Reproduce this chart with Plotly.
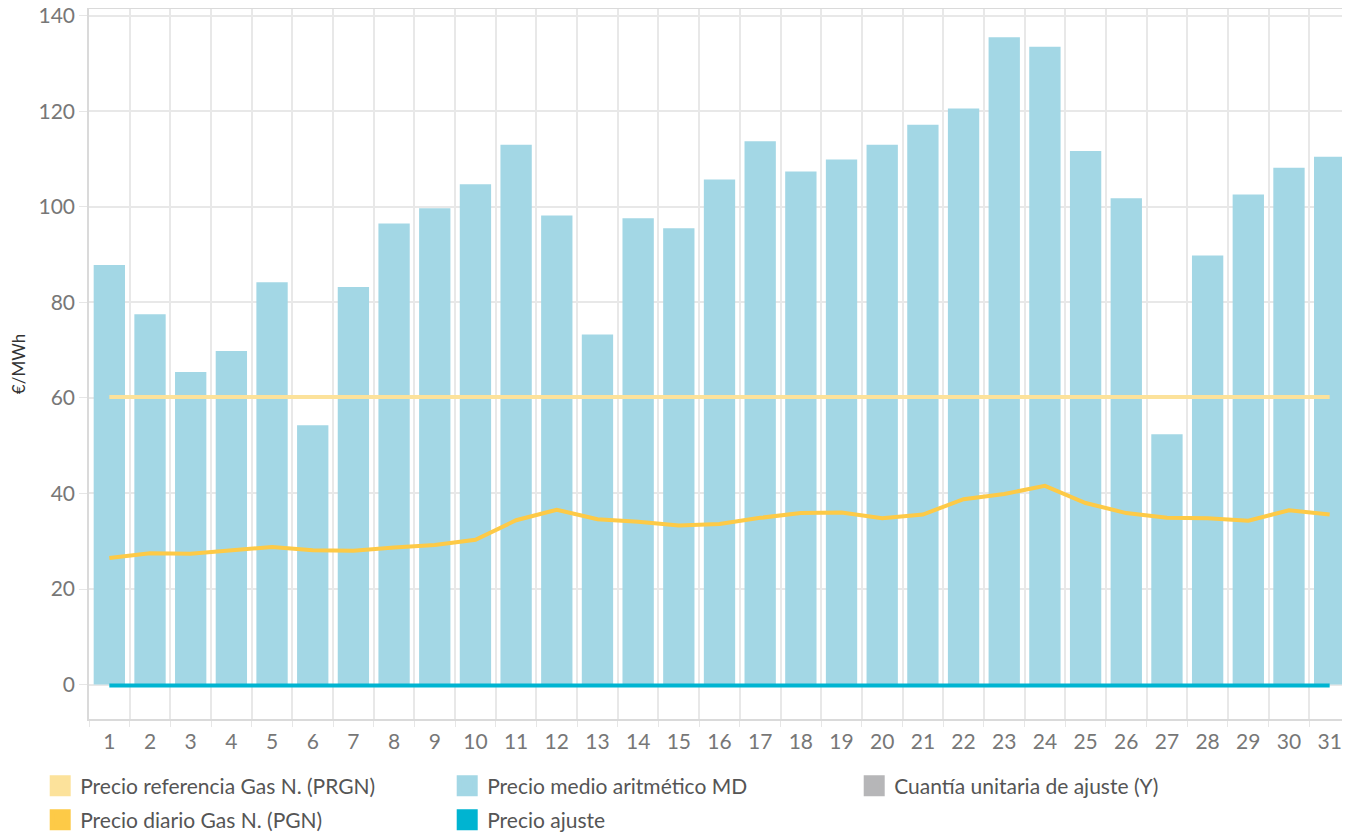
import plotly.graph_objects as go

days = list(range(1, 32))
day_labels = [str(d) for d in days]

precio_medio_md = [87.8, 77.5, 65.4, 69.8, 84.2, 54.3, 83.2, 96.5, 99.7, 104.7,
                   113.0, 98.2, 73.3, 97.6, 95.5, 105.7, 113.7, 107.4, 109.9, 113.0,
                   117.2, 120.6, 135.5, 133.5, 111.7, 101.8, 52.4, 89.8, 102.6, 108.2, 110.5]
precio_diario_pgn = [26.5, 27.5, 27.4, 28.1, 28.8, 28.1, 28.0, 28.7, 29.2, 30.3,
                     34.4, 36.6, 34.6, 34.1, 33.3, 33.6, 34.9, 35.9, 36.0, 34.8,
                     35.6, 38.8, 39.9, 41.6, 38.0, 35.9, 34.9, 34.8, 34.3, 36.5, 35.6]
precio_referencia_prgn = [60.2] * 31
cuantia_ajuste_y = [0.0] * 31
precio_ajuste = [-0.2] * 31

C_MD = "#A3D7E5"
C_PRGN = "#FCE29B"
C_PGN = "#FDCA47"
C_AJ = "#00B4D1"
C_Y = "#B6B6B8"
FONT = "Lato"

# page has an 8px body margin, so the figure is 8px smaller each way
W, H = 1342, 826

fig = go.Figure()
fig.add_trace(go.Bar(x=days, y=precio_medio_md, marker=dict(color=C_MD, line=dict(width=0)),
                     name="Precio medio aritmético MD", showlegend=False))
fig.add_trace(go.Bar(x=days, y=cuantia_ajuste_y, marker=dict(color=C_Y, line=dict(width=0)),
                     name="Cuantía unitaria de ajuste (Y)", showlegend=False, base=0))
fig.add_trace(go.Scatter(x=days, y=precio_referencia_prgn, mode="lines",
                         line=dict(color=C_PRGN, width=4), name="Precio referencia Gas N. (PRGN)", showlegend=False))
fig.add_trace(go.Scatter(x=days, y=precio_diario_pgn, mode="lines",
                         line=dict(color=C_PGN, width=4), name="Precio diario Gas N. (PGN)", showlegend=False))
fig.add_trace(go.Scatter(x=days, y=precio_ajuste, mode="lines",
                         line=dict(color=C_AJ, width=4), name="Precio ajuste", showlegend=False))

# legend entries (square swatches), two rows
legend_items = [("Precio referencia Gas N. (PRGN)", C_PRGN, "legend"),
                ("Precio medio aritmético MD", C_MD, "legend"),
                ("Cuantía unitaria de ajuste (Y)", C_Y, "legend"),
                ("Precio diario Gas N. (PGN)", C_PGN, "legend2"),
                ("Precio ajuste", C_AJ, "legend2")]
for name, col, lg in legend_items:
    fig.add_trace(go.Scatter(x=[None], y=[None], mode="markers", name=name, legend=lg,
                             marker=dict(symbol="square", size=16, color=col, line=dict(color=col, width=8))))

leg_common = dict(orientation="h", xref="container", yref="container",
                  xanchor="left", yanchor="middle",
                  entrywidth=362, entrywidthmode="pixels",
                  font=dict(family=FONT, size=21, color="#555555"),
                  itemclick=False, itemdoubleclick=False, bgcolor="rgba(0,0,0,0)")

fig.update_layout(
    width=W, height=H,
    margin=dict(l=81, r=0, t=1, b=115, autoexpand=False),
    paper_bgcolor="white", plot_bgcolor="white",
    barmode="overlay", bargap=0.23,
    font=dict(family=FONT, size=21, color="#666666"),
    legend=dict(x=0.024, y=1 - (786 - 8) / H, **leg_common),
    legend2=dict(x=0.024, y=1 - (820 - 8) / H, **leg_common),
    showlegend=True,
)
fig.update_xaxes(
    range=[0.5, 31.5], tickmode="array", tickvals=days, ticktext=day_labels,
    showgrid=False, ticks="", zeroline=False, automargin=False,
    showline=True, linecolor="#DADADA", linewidth=1.5, mirror=True,
    tickfont=dict(family=FONT, size=21, color="#777777"), ticklabelstandoff=3,
    ticklabeloverflow="allow",
    minor=dict(tick0=0.5, dtick=1, showgrid=True, gridcolor="#E8E8E8", gridwidth=1.5,
               ticks="outside", ticklen=6, tickcolor="#E6E6E6", tickwidth=1),
)
fig.update_yaxes(
    range=[-7.2, 141.4], tickvals=[0, 20, 40, 60, 80, 100, 120, 140],
    showgrid=True, gridcolor="#E8E8E8", gridwidth=1.5, zeroline=False, automargin=False,
    ticks="outside", ticklen=8, tickcolor="#E6E6E6", ticklabeloverflow="allow",
    showline=True, linecolor="#DADADA", linewidth=1.5, mirror=True,
    tickfont=dict(family=FONT, size=21, color="#777777"),
    title=dict(text="€/MWh", font=dict(family=FONT, size=17, color="#333333"), standoff=18),
)

fig.write_html("out.html")
